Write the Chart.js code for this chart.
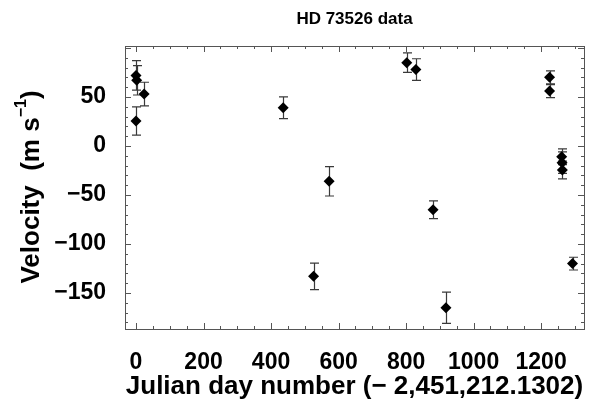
<!DOCTYPE html>
<html>
<head>
<meta charset="utf-8">
<script src="https://cdn.jsdelivr.net/npm/chart.js@4"></script>
<style>
  body { margin: 0; background: #fff; }
  #wrap { width: 594px; height: 403px; }
</style>
</head>
<body>
<div id="wrap"><canvas id="rv"></canvas></div>
<script>
//------------- DATA -----------------

const days     = [0, 2, 24, 0, 436, 526, 572, 802, 829, 880, 918, 1225, 1225, 1261, 1262, 1263, 1293];
const velocity = [72, 67, 53, 25.5, 39, -133, -36, 85, 78, -65, -165, 70, 56, -11, -17, -24.5, -120];
const velErr   = [15, 15, 12, 14.5, 11, 13.5, 15, 10, 11, 9, 16, 6.6, 6.6, 8, 11, 9, 6.5];

const xTicks = [0, 200, 400, 600, 800, 1000, 1200];
const yTicks = [-150, -100, -50, 0, 50];

const FONT = "'Liberation Sans', Arial, sans-serif";
const FRAME = '#555';


//------------- PLUGINS -----------------

// vertical error bars with caps, drawn under the diamonds
const errorBars = {
  id: 'errorBars',
  beforeDatasetsDraw(chart) {
    const ctx = chart.ctx, xs = chart.scales.x, ys = chart.scales.y;
    ctx.save();
    ctx.strokeStyle = '#3a3a3a';
    ctx.lineWidth = 1.2;
    days.forEach((d, i) => {
      const px = Math.round(xs.getPixelForValue(d)) + 0.5;
      const top = ys.getPixelForValue(velocity[i] + velErr[i]);
      const bot = ys.getPixelForValue(velocity[i] - velErr[i]);
      ctx.beginPath();
      ctx.moveTo(px, top); ctx.lineTo(px, bot);
      ctx.moveTo(px - 4.5, top); ctx.lineTo(px + 4.5, top);
      ctx.moveTo(px - 4.5, bot); ctx.lineTo(px + 4.5, bot);
      ctx.stroke();
    });
    ctx.restore();
  }
};

// box frame with inward ticks on all four sides, plus title and y label
const frame = {
  id: 'frame',
  afterDraw(chart) {
    const ctx = chart.ctx, a = chart.chartArea;
    const xs = chart.scales.x, ys = chart.scales.y;
    ctx.save();
    ctx.strokeStyle = FRAME;
    ctx.lineWidth = 1;
    ctx.strokeRect(a.left + 0.5, a.top + 0.5, a.right - a.left, a.bottom - a.top);

    ctx.beginPath();
    for (let v = -50; v <= 1350; v += 50) {
      const px = Math.round(xs.getPixelForValue(v)) + 0.5;
      if (px <= a.left || px >= a.right) continue;
      const len = v % 200 === 0 ? 6 : 3;
      ctx.moveTo(px, a.bottom); ctx.lineTo(px, a.bottom - len);
      ctx.moveTo(px, a.top); ctx.lineTo(px, a.top + len);
    }
    for (let v = -190; v <= 110; v += 10) {
      const py = Math.round(ys.getPixelForValue(v)) + 0.5;
      if (py <= a.top || py >= a.bottom) continue;
      const len = v % 50 === 0 ? 6 : 3;
      ctx.moveTo(a.left, py); ctx.lineTo(a.left + len, py);
      ctx.moveTo(a.right, py); ctx.lineTo(a.right - len, py);
    }
    ctx.stroke();

    // title over the plot
    ctx.fillStyle = '#000';
    ctx.font = 'bold 17px ' + FONT;
    ctx.textAlign = 'center';
    ctx.textBaseline = 'middle';
    ctx.fillText('HD 73526 data', (a.left + a.right) / 2, 19);

    // rotated y label with superscript
    const main = 'Velocity  (m s', sup = '\u22121', tail = ')';
    const big = 'bold 26px ' + FONT, small = 'bold 16px ' + FONT;
    ctx.font = big;
    const w1 = ctx.measureText(main).width, w3 = ctx.measureText(tail).width;
    ctx.font = small;
    const w2 = ctx.measureText(sup).width;
    const total = w1 + w2 + w3;
    ctx.translate(32, 187);
    ctx.rotate(-Math.PI / 2);
    ctx.textAlign = 'left';
    ctx.textBaseline = 'middle';
    const x0 = -total / 2;
    ctx.font = big;
    ctx.fillText(main, x0, 0);
    ctx.font = small;
    ctx.fillText(sup, x0 + w1, -10);
    ctx.font = big;
    ctx.fillText(tail, x0 + w1 + w2, 0);
    ctx.restore();
  }
};


//------------- CHART -----------------

const points = days.map((d, i) => ({x: d, y: velocity[i]}));

new Chart(document.getElementById('rv'), {
  type: 'scatter',
  data: {
    datasets: [{
      data: points,
      pointStyle: 'rectRot',
      radius: 5.5,
      backgroundColor: '#000',
      borderColor: '#000',
      borderWidth: 0
    }]
  },
  options: {
    responsive: true,
    maintainAspectRatio: false,
    animation: false,
    layout: {padding: {top: 46, right: 10, left: 0, bottom: 0}},
    plugins: {legend: {display: false}, tooltip: {enabled: false}},
    scales: {
      x: {
        type: 'linear',
        min: -32.6,
        max: 1327,
        grid: {display: false},
        border: {display: false},
        afterBuildTicks: (s) => { s.ticks = xTicks.map(v => ({value: v})); },
        afterFit: (s) => { s.height = 74; },
        ticks: {
          padding: 12,
          color: '#000',
          font: {family: FONT, size: 23, weight: 'bold'},
          callback: (v) => String(v)
        },
        title: {
          display: true,
          text: 'Julian day number (\u2212 2,451,212.1302)',
          color: '#000',
          font: {family: FONT, size: 26, weight: 'bold'},
          padding: {top: 0, bottom: 1}
        }
      },
      y: {
        type: 'linear',
        min: -186.7,
        max: 102,
        grid: {display: false},
        border: {display: false},
        afterBuildTicks: (s) => { s.ticks = yTicks.map(v => ({value: v})); },
        afterFit: (s) => { s.width = 125; },
        ticks: {
          padding: 11,
          color: '#000',
          font: {family: FONT, size: 23, weight: 'bold'},
          callback: (v) => v < 0 ? '\u2212' + Math.abs(v) : String(v)
        }
      }
    }
  },
  plugins: [errorBars, frame]
});
</script>
</body>
</html>
